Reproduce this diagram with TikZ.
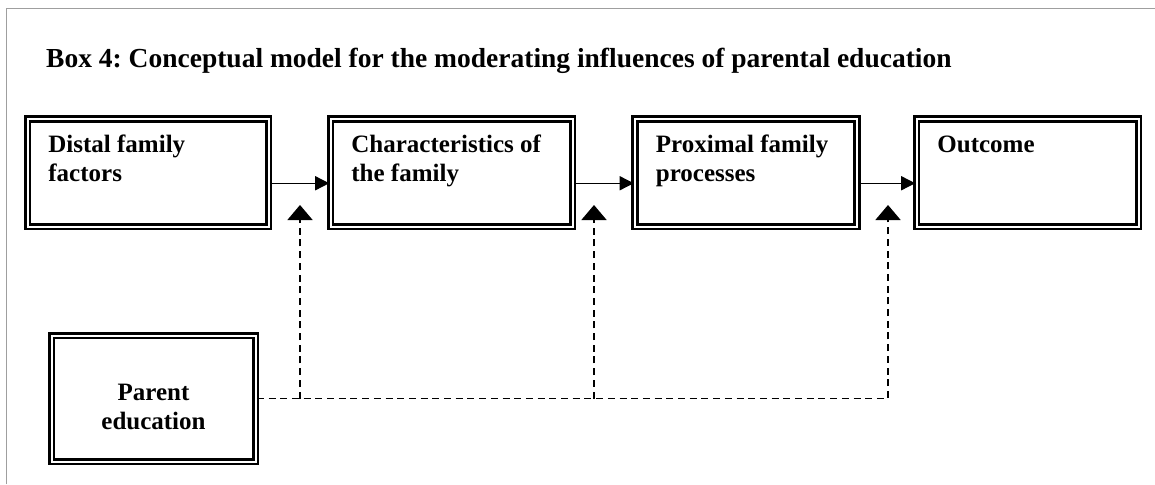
\documentclass[tikz,border=0pt]{standalone}
\usepackage{fontspec}
\setmainfont{Liberation Serif}
\usetikzlibrary{arrows.meta,calc}
\frenchspacing

\tikzset{
  framebox/.style={draw, double=white, line width=2.6pt, double distance=2pt,
    rectangle, inner sep=0pt},
  boxtext/.style={font=\bfseries\fontsize{25}{29}\selectfont, align=left, inner sep=0pt},
  flow/.style={line width=1.5pt, -{Triangle[length=14pt,width=14pt]}},
  moderate/.style={line width=1.6pt, dash pattern=on 7pt off 4.7pt,
    -{Triangle[length=15pt,width=25pt]}},
}

\begin{document}
\begin{tikzpicture}[x=1pt,y=-1pt]
  \useasboundingbox (0,0) rectangle (1155,484);

  % page frame
  \draw[gray!75, line width=1pt] (6.5,484) -- (6.5,9) -- (1155,9);

  % heading
  \node[anchor=base west, inner sep=0pt, font=\bfseries\fontsize{27.5}{33}\selectfont]
    (title) at (46,67.7) {Box 4: Conceptual model for the moderating influences of parental education};

  % chain of boxes
  \node[framebox, minimum width=241pt, minimum height=107.5pt] (b1) at (148,172.75) {};
  \node[framebox, minimum width=242pt, minimum height=107.5pt] (b2) at (451.5,172.75) {};
  \node[framebox, minimum width=222pt, minimum height=107.5pt] (b3) at (746,172.75) {};
  \node[framebox, minimum width=222pt, minimum height=107.5pt] (b4) at (1027.5,172.75) {};

  % labels: base anchor sits on the last line
  \node[boxtext, anchor=base west] (t1) at ($(b1.north west)+(22,64)$) {Distal family\\factors};
  \node[boxtext, anchor=base west] (t2) at ($(b2.north west)+(22,64)$) {Characteristics of\\the family};
  \node[boxtext, anchor=base west] (t3) at ($(b3.north west)+(22,64)$) {Proximal family\\processes};
  \node[boxtext, anchor=base west] (t4) at ($(b4.north west)+(22,35)$) {Outcome};

  % moderator box
  \node[framebox, minimum width=204pt, minimum height=126pt] (pe) at (153.5,398.5) {};
  \node[boxtext, align=center, anchor=base] (tpe) at (153.5,429) {Parent\\education};

  % main pathway
  \draw[flow] ([yshift=-10.5pt]b1.east) -- ([yshift=-10.5pt]b2.west);
  \draw[flow] ([yshift=-10.5pt]b2.east) -- ([yshift=-10.5pt]b3.west);
  \draw[flow] ([yshift=-10.5pt]b3.east) -- ([yshift=-10.5pt]b4.west);

  % moderating links
  \coordinate (m1) at (300,205);
  \coordinate (m2) at (594,205);
  \coordinate (m3) at (888,205);
  \draw[moderate] (pe.east) -| (m3);
  \draw[moderate] (pe.east -| m1) -- (m1);
  \draw[moderate] (pe.east -| m2) -- (m2);
\end{tikzpicture}
\end{document}
